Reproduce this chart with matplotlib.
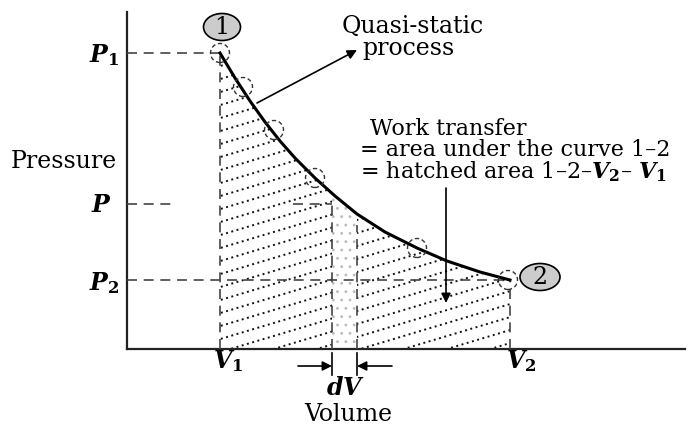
import matplotlib
matplotlib.use("Agg")
import matplotlib.pyplot as plt
import numpy as np
from matplotlib.patches import Polygon, Circle, Ellipse

plt.rcParams['font.family'] = ['DejaVu Serif']
plt.rcParams['mathtext.fontset'] = 'custom'
plt.rcParams['mathtext.it'] = 'DejaVu Serif:italic:bold'
plt.rcParams['mathtext.rm'] = 'DejaVu Serif:bold'
plt.rcParams['mathtext.bf'] = 'DejaVu Serif:bold'
plt.rcParams['hatch.linewidth'] = 0.8

# curve 1-2
vol = [0.93, 1.08, 1.23, 1.38, 1.53, 1.68, 1.88, 2.08, 2.30, 2.58, 2.90, 3.20, 3.53, 3.83]
pres = [2.96, 2.71, 2.48, 2.27, 2.08, 1.91, 1.71, 1.53, 1.35, 1.17, 1.01, 0.88, 0.77, 0.69]

V1, V2 = 0.93, 3.83
P1, P2, P_mid = 2.96, 0.69, 1.45
dV_left, dV_right = 2.05, 2.30
dV_right_top = 1.24

# small dashed circles on the process
circ_v = [0.93, 1.16, 1.47, 1.88, 2.90, 3.81]
circ_p = [2.96, 2.62, 2.19, 1.71, 1.01, 0.69]

fig = plt.figure(figsize=(6.92, 4.25), dpi=100)
ax = fig.add_axes([127/692, 76/425, 558/692, 337/425])
ax.set_xlim(0, 5.58)
ax.set_ylim(0, 3.37)
ax.set_xticks([])
ax.set_yticks([])
for s in ['top', 'right']:
    ax.spines[s].set_visible(False)
for s in ['left', 'bottom']:
    ax.spines[s].set_linewidth(1.6)
    ax.spines[s].set_color('#222222')

# hatched area under curve
region = Polygon([(V1, 0)] + list(zip(vol, pres)) + [(V2, 0)], closed=True,
                 facecolor='none', edgecolor='none')
ax.add_patch(region)
for c in np.arange(-2.0, 3.2, 0.13):
    ln, = ax.plot([0, 5.58], [c, c + 0.3*5.58], ls=(0, (1, 1.8)), color='#111111', lw=1.4)
    ln.set_clip_path(region)

# dV strip
sv = np.linspace(dV_left, dV_right, 10)
sp = np.interp(sv, vol, pres)
strip = Polygon([(dV_left, 0)] + list(zip(sv, sp)) + [(dV_right, 0)], closed=True,
                facecolor='white', edgecolor='#bbbbbb', lw=0, hatch='..', zorder=2)
ax.add_patch(strip)

ax.plot(vol, pres, color='black', lw=2.2, zorder=4)

dash = dict(color='#444444', lw=1.2, ls=(0, (6, 4)), zorder=3)
ax.plot([0, V1], [P1, P1], **dash)
ax.plot([0, V2], [P2, P2], **dash)
ax.plot([0, 0.48], [P_mid, P_mid], **dash)
ax.plot([1.66, dV_left], [P_mid, P_mid], **dash)
ax.plot([V1, V1], [0, P1], **dash)
ax.plot([V2, V2], [0, P2], **dash)
ax.plot([dV_left, dV_left], [0, P_mid], **dash)
ax.plot([dV_right, dV_right], [0, dV_right_top], **dash)

for v, p in zip(circ_v, circ_p):
    ax.add_patch(Circle((v, p), 0.095, fill=False, ec='#333333', lw=1.0,
                        ls=(0, (3, 2)), zorder=5))

# state labels
ax.add_patch(Ellipse((0.95, 3.22), 0.37, 0.27, fc='#cccccc', ec='black', lw=1.2,
                     clip_on=False, zorder=6))
ax.text(0.95, 3.22, '1', ha='center', va='center', fontsize=17, zorder=7)
ax.add_patch(Ellipse((4.13, 0.72), 0.40, 0.27, fc='#cccccc', ec='black', lw=1.2,
                     clip_on=False, zorder=6))
ax.text(4.13, 0.72, '2', ha='center', va='center', fontsize=17, zorder=7)

# axis labels
fs = 17
ax.text(-0.08, P1 - 0.09, '$P_1$', ha='right', va='baseline', fontsize=fs)
ax.text(-0.15, P_mid - 0.08, '$P$', ha='right', va='baseline', fontsize=fs)
ax.text(-0.08, P2 - 0.10, '$P_2$', ha='right', va='baseline', fontsize=fs)
ax.text(V1 - 0.07, -0.19, '$V_1$', ha='left', va='baseline', fontsize=fs)
ax.text(V2 - 0.04, -0.19, '$V_2$', ha='left', va='baseline', fontsize=fs)
ax.text(2.18, -0.46, '$dV$', ha='center', va='baseline', fontsize=fs)
ax.text(-0.10, 1.81, 'Pressure', ha='right', va='baseline', fontsize=fs)
ax.text(2.21, -0.72, 'Volume', ha='center', va='baseline', fontsize=fs)

ax.text(2.15, 3.16, 'Quasi-static', ha='left', va='baseline', fontsize=fs)
ax.text(2.35, 2.94, 'process', ha='left', va='baseline', fontsize=fs)

fw = 16
ax.text(2.43, 2.14, 'Work transfer', ha='left', va='baseline', fontsize=fw)
ax.text(2.33, 1.93, '= area under the curve 1\u20132', ha='left', va='baseline', fontsize=fw)
ax.text(2.33, 1.71, '= hatched area 1\u20132\u2013$V_2$\u2013 $V_1$', ha='left',
        va='baseline', fontsize=fw)

arr = dict(arrowstyle='-|>', color='black', lw=1.2, mutation_scale=14, shrinkA=0, shrinkB=0)
ax.annotate('', xy=(2.30, 2.99), xytext=(1.30, 2.46), arrowprops=arr)
ax.annotate('', xy=(3.19, 0.46), xytext=(3.19, 1.61), arrowprops=arr)
ax.annotate('', xy=(dV_left, -0.17), xytext=(1.71, -0.17), arrowprops=arr, annotation_clip=False)
ax.annotate('', xy=(dV_right, -0.17), xytext=(2.65, -0.17), arrowprops=arr, annotation_clip=False)
for v in [dV_left, dV_right]:
    ax.plot([v, v], [-0.04, -0.26], color='black', lw=1.2, clip_on=False)

fig.savefig('out.png', dpi=100)
